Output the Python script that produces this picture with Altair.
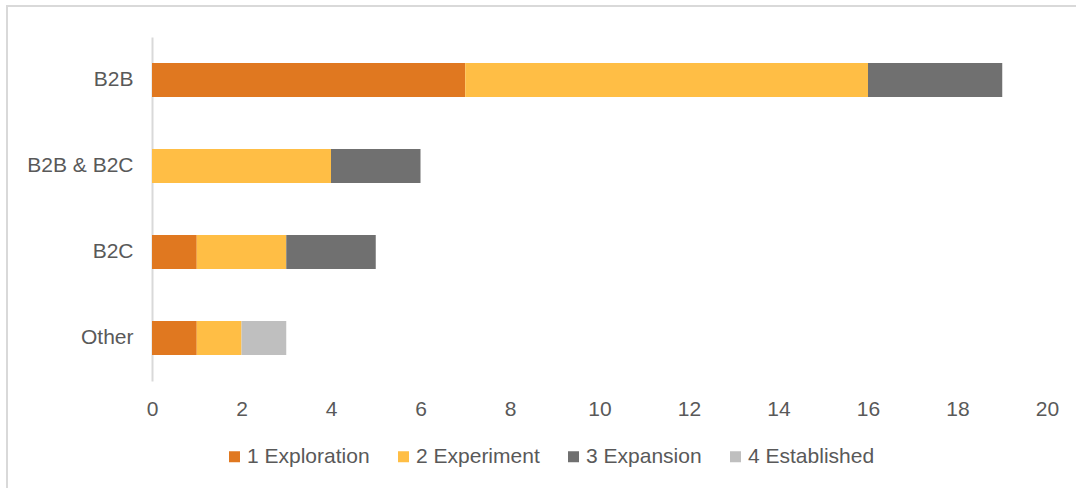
import altair as alt
import pandas as pd

# Business model segments and maturity stages
segments = ["B2B", "B2B & B2C", "B2C", "Other"]
stages = ["1 Exploration", "2 Experiment", "3 Expansion", "4 Established"]
stage_colors = ["#E07820", "#FFBE45", "#707070", "#BFBFBF"]

# Counts per segment, one list per stage (same order as `segments`)
exploration = [7, 0, 1, 1]
experiment = [9, 4, 2, 1]
expansion = [3, 2, 2, 0]
established = [0, 0, 0, 1]

series = [exploration, experiment, expansion, established]
rows = []
for s_idx, (stage, vals) in enumerate(zip(stages, series)):
    for seg, v in zip(segments, vals):
        if v > 0:
            rows.append({"segment": seg, "stage": stage, "order": s_idx, "count": v})
df = pd.DataFrame(rows)

font = "Liberation Sans"
text_color = "#595959"
font_size = 21

bars = alt.Chart(df).mark_bar(size=34).encode(
    y=alt.Y(
        "segment:N",
        sort=segments,
        title=None,
        scale=alt.Scale(paddingInner=0.6, paddingOuter=0.3),
        axis=alt.Axis(
            ticks=False,
            domain=True,
            domainColor="#D9D9D9",
            domainWidth=2,
            labelPadding=19,
            labelFontSize=font_size,
            labelColor=text_color,
            labelFont=font,
            grid=False,
        ),
    ),
    x=alt.X(
        "count:Q",
        stack="zero",
        title=None,
        scale=alt.Scale(domain=[0, 20], nice=False),
        axis=alt.Axis(
            values=list(range(0, 21, 2)),
            ticks=False,
            domain=False,
            grid=False,
            labelFlush=False,
            labelPadding=17,
            labelFontSize=font_size,
            labelColor=text_color,
            labelFont=font,
        ),
    ),
    color=alt.Color(
        "stage:N",
        scale=alt.Scale(domain=stages, range=stage_colors),
        legend=alt.Legend(
            title=None,
            orient="none",
            direction="horizontal",
            legendX=72,
            legendY=409,
            symbolType="square",
            symbolSize=121,
            symbolStrokeWidth=0,
            labelFontSize=font_size,
            labelColor=text_color,
            labelFont=font,
            labelOffset=2,
            columnPadding=23,
        ),
    ),
    order=alt.Order("order:Q"),
)

# Light outer frame around the whole figure
frame = alt.Chart(alt.Data(values=[{}])).mark_rect(
    fill=None, stroke="#D9D9D9", strokeWidth=2
).encode(
    x=alt.value(-145),
    x2=alt.value(940),
    y=alt.value(-31),
    y2=alt.value(470),
)

chart = alt.layer(frame, bars).properties(
    width=895,
    height=344,
    padding={"left": 152, "top": 37, "right": 29, "bottom": 107},
    autosize=alt.AutoSizeParams(type="none"),
    background="white",
).configure_view(stroke=None)

chart.save("out.html", embed_options={"renderer": "svg", "actions": False})
